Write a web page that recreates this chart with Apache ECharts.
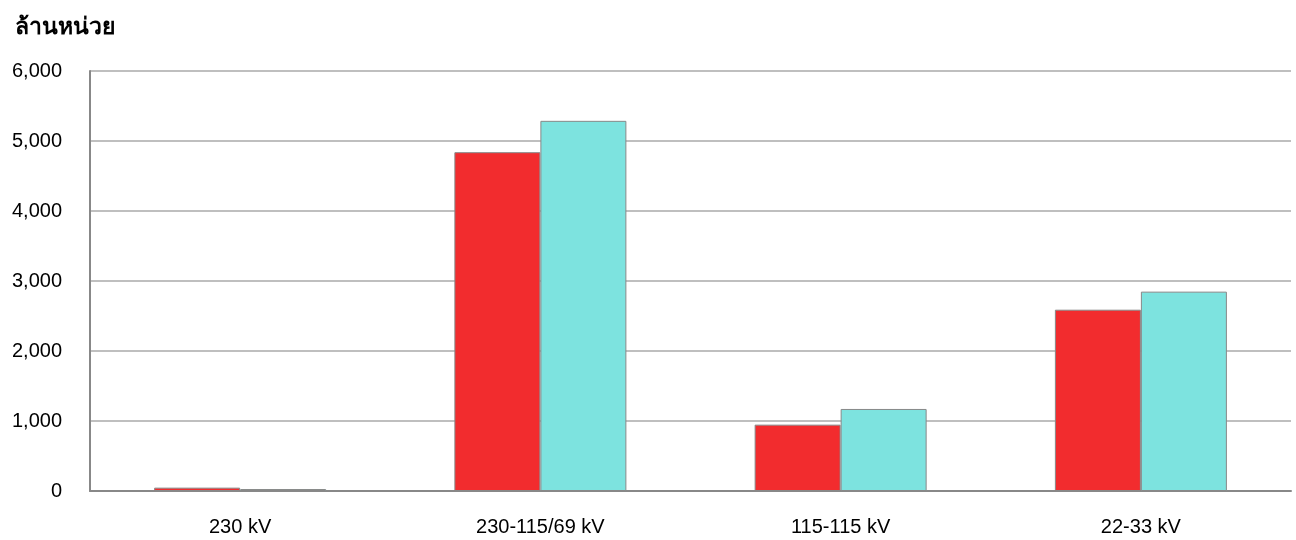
<!DOCTYPE html>
<html>
<head>
<meta charset="utf-8">
<title>chart</title>
<script src="https://cdn.jsdelivr.net/npm/echarts@6/dist/echarts.min.js"></script>
<style>
	html, body { margin: 0; padding: 0; background: #fff; }
	#chart { width: 1296px; height: 540px; }
</style>
</head>
<body>
<div id="chart"></div>
<script>
	// ข้อมูล
	const categories = ['230 kV', '230-115/69 kV', '115-115 kV', '22-33 kV']
	const seriesRed = [48, 4840, 948, 2590]
	const seriesCyan = [28, 5288, 1172, 2848]
	const yTicks = [0, 1000, 2000, 3000, 4000, 5000, 6000]

	const chart = echarts.init(document.getElementById('chart'))
	const font = '"Liberation Sans", Arial, sans-serif'
	let option = {
		animation: false,
		title: {
			text: 'ล้านหน่วย',
			left: 10,
			top: 11,
			textStyle: {
				fontFamily: '"Noto Sans", "Liberation Sans", sans-serif',
				fontSize: 23,
				fontWeight: 'bold',
				color: '#000'
			}
		},
		grid: {
			left: 90,
			right: 5,
			top: 71,
			bottom: 49
		},
		xAxis: {
			type: 'category',
			data: categories,
			axisTick: { show: false },
			axisLine: {
				lineStyle: { color: '#888', width: 2 }
			},
			axisLabel: {
				color: '#000',
				fontSize: 20,
				fontFamily: font,
				margin: 26
			}
		},
		yAxis: {
			type: 'value',
			min: yTicks[0],
			max: yTicks[yTicks.length - 1],
			interval: 1000,
			axisLine: {
				show: true,
				lineStyle: { color: '#888', width: 2 }
			},
			axisTick: { show: false },
			axisLabel: {
				color: '#000',
				fontSize: 20,
				fontFamily: font,
				margin: 28,
				formatter: v => v.toLocaleString('en-US')
			},
			splitLine: {
				lineStyle: { color: '#aaa', width: 1.5 }
			}
		},
		series: [{
				name: 'a',
				type: 'bar',
				data: seriesRed,
				barWidth: 86,
				barGap: '0%',
				itemStyle: {
					color: '#f22c2e',
					borderColor: '#888',
					borderWidth: 1
				}
			},
			{
				name: 'b',
				type: 'bar',
				data: seriesCyan,
				barWidth: 86,
				barGap: '0%',
				itemStyle: {
					color: '#7de3df',
					borderColor: '#888',
					borderWidth: 1
				}
			}
		]
	}
	chart.setOption(option)
</script>
</body>
</html>
